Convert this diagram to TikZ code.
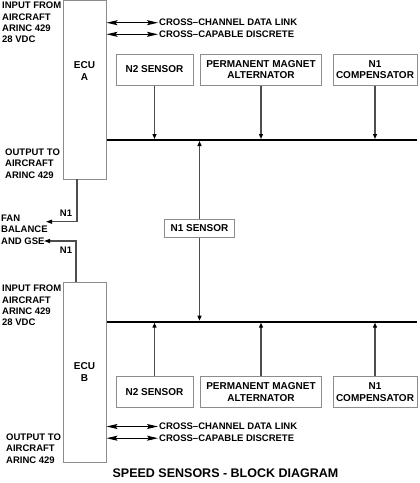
\documentclass[tikz,border=0pt]{standalone}
\usepackage{fontspec}
\setmainfont{Liberation Sans}
\usetikzlibrary{arrows.meta, positioning}
\definecolor{boxgray}{HTML}{8C8C8C}
\definecolor{linegray}{HTML}{4D4D4D}

\begin{document}
\begin{tikzpicture}[x=1pt, y=-1pt,
      unit/.style={draw=boxgray, line width=1pt, minimum width=43pt, inner sep=0pt},
      ecutext/.style={align=center, inner sep=0pt, font=\fontsize{10}{12}\selectfont\bfseries},
      sensor/.style={draw=boxgray, line width=1pt, minimum height=31pt, inner sep=0pt,
         align=center, font=\fontsize{10}{11.6}\selectfont\bfseries},
      side/.style={anchor=north west, inner sep=0pt, align=left, font=\fontsize{9.5}{11.4}\selectfont\bfseries},
      link/.style={anchor=west, inner sep=1pt, font=\fontsize{9.5}{11}\selectfont\bfseries},
      tag/.style={inner sep=0pt, font=\fontsize{9.5}{11}\selectfont\bfseries},
      feed/.style={draw=linegray, line width=1.2pt, shorten >=1pt, -{Triangle[length=5pt, width=4pt, color=black]}},
      tap/.style={draw=linegray, line width=1.2pt, -{Triangle[length=6pt, width=4pt, color=black]}},
      duplex/.style={line width=1pt, {Stealth[length=11pt, width=5pt, inset=2pt]}-{Stealth[length=11pt, width=5pt, inset=2pt]}},
      bus/.style={line width=2pt}]

      \useasboundingbox (0,0) rectangle (420,483);

      % Draw the two ECUs
      \node[unit, minimum height=179pt] (ecuA) at (84.5,89.5) {};
      \node[ecutext] (ecuAlbl) at (84.5,71) {ECU\\A};
      \node[unit, minimum height=180pt] (ecuB) at (84.5,372) {};
      \node[ecutext] (ecuBlbl) at (84.5,372) {ECU\\B};

      % Aircraft side labels
      \node[side] (inA) at (2,1.8) {INPUT FROM\\AIRCRAFT\\ARINC 429\\28 VDC};
      \node[side] (outA) at (5,148.6) {OUTPUT TO\\AIRCRAFT\\ARINC 429};
      \node[side] (fan) at (1,214.7) {FAN\\BALANCE\\AND GSE};
      \node[side] (inB) at (2,284.8) {INPUT FROM\\AIRCRAFT\\ARINC 429\\28 VDC};
      \node[side] (outB) at (6,433.4) {OUTPUT TO\\AIRCRAFT\\ARINC 429};

      % Cross-channel links
      \node[link] (cdlA) at (158,22.7) {CROSS–CHANNEL DATA LINK};
      \node[link] (cdA) at (158,34.3) {CROSS–CAPABLE DISCRETE};
      \node[link] (cdlB) at (158,426.5) {CROSS–CHANNEL DATA LINK};
      \node[link] (cdB) at (158,438.2) {CROSS–CAPABLE DISCRETE};
      \draw[duplex] (cdlA.west -| ecuA.east) -- (cdlA.west);
      \draw[duplex] (cdA.west -| ecuA.east) -- (cdA.west);
      \draw[duplex] (cdlB.west -| ecuB.east) -- (cdlB.west);
      \draw[duplex] (cdB.west -| ecuB.east) -- (cdB.west);

      % Sensors, channel A
      \node[sensor, minimum width=77pt] (n2A) at (154.5,69.5) {N2 SENSOR};
      \node[sensor, minimum width=121pt] (pmaA) at (261,69.5) {PERMANENT MAGNET\\ALTERNATOR};
      \node[sensor, minimum width=84pt] (n1cA) at (375,69.5) {N1\\COMPENSATOR};

      % Sensors, channel B
      \node[sensor, minimum width=77pt] (n2B) at (154.5,392.2) {N2 SENSOR};
      \node[sensor, minimum width=121pt] (pmaB) at (261,392.2) {PERMANENT MAGNET\\ALTERNATOR};
      \node[sensor, minimum width=84pt] (n1cB) at (375,392.2) {N1\\COMPENSATOR};

      \node[sensor, minimum width=70pt, minimum height=18pt] (n1s) at (199.5,228) {N1 SENSOR};

      % Draw the buses
      \coordinate (busA) at (417,140);
      \coordinate (busB) at (417,321.7);
      \draw[bus] (ecuA.east |- busA) -- (busA);
      \draw[bus] (ecuB.east |- busB) -- (busB);

      % Sensor feeds
      \draw[feed] (n2A.south) -- (n2A.south |- busA);
      \draw[feed] (pmaA.south) -- (pmaA.south |- busA);
      \draw[feed] (n1cA.south) -- (n1cA.south |- busA);
      \draw[feed] (n2B.north) -- (n2B.north |- busB);
      \draw[feed] (pmaB.north) -- (pmaB.north |- busB);
      \draw[feed] (n1cB.north) -- (n1cB.north |- busB);
      \draw[feed] (n1s.north) -- (n1s.north |- busA);
      \draw[feed] (n1s.south) -- (n1s.south |- busB);

      % N1 outputs to fan balance
      \coordinate (tapA) at (77,179);
      \coordinate (fanA) at (46,221.7);
      \coordinate (tapB) at (76,282);
      \coordinate (fanB) at (44,241);
      \draw[tap] (tapA) |- (fanA);
      \draw[tap] (tapB) |- (fanB);
      \node[tag] (n1A) at (66,213) {N1};
      \node[tag] (n1B) at (66,250.7) {N1};

      % Title
      \node[font=\fontsize{12.5}{14}\selectfont\bfseries] (title) at (225.5,473) {SPEED SENSORS - BLOCK DIAGRAM};
\end{tikzpicture}
\end{document}
